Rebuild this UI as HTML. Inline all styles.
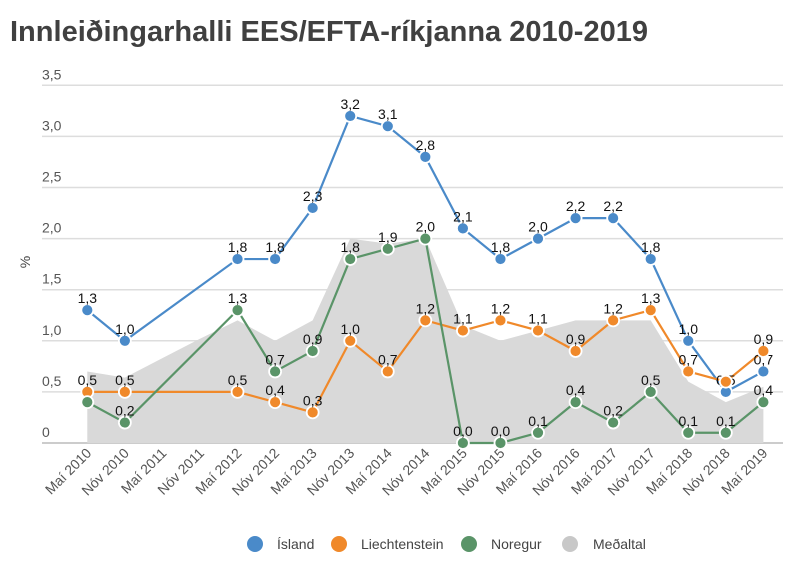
<!DOCTYPE html>
<html><head><meta charset="utf-8"><style>
body{margin:0;background:#fff;}
svg{display:block;font-family:"Liberation Sans",sans-serif;}
</style></head><body>
<svg id="c" width="800" height="562" viewBox="0 0 800 562" xmlns="http://www.w3.org/2000/svg">
<text x="10" y="41" font-size="29" font-weight="bold" fill="#404040" textLength="638" lengthAdjust="spacingAndGlyphs">Innleiðingarhalli EES/EFTA-ríkjanna 2010-2019</text>
</svg>
<script>
const s=document.getElementById('c');const NS='http://www.w3.org/2000/svg';
function el(t,a,txt){const e=document.createElementNS(NS,t);for(const k in a)e.setAttribute(k,a[k]);if(txt!=null)e.textContent=txt;s.appendChild(e);return e;}
const X=i=>87.3+i*37.56, Y=v=>443-v*102.2;
const ticks=['0','0,5','1,0','1,5','2,0','2,5','3,0','3,5'];
ticks.forEach((t,i)=>{const y=Y(i*0.5);el('line',{x1:42,x2:783,y1:y,y2:y,stroke:i==0?'#ccc':'#ddd','stroke-width':i==0?2:1.5});el('text',{x:42,y:y-6,'font-size':14,fill:'#555'},t);});
el('text',{x:0,y:0,'font-size':14,fill:'#444',transform:'translate(30,262) rotate(-90)','text-anchor':'middle'},'%');
const avg=[0.7,0.64,0.83,1.02,1.2,1.0,1.2,2.0,1.95,2.0,1.15,1.0,1.1,1.2,1.2,1.2,0.6,0.4,0.55];
let d='M'+X(0)+','+Y(0);avg.forEach((v,i)=>d+=' L'+X(i)+','+Y(v));d+=' L'+X(18)+','+Y(0)+' Z';
el('path',{d:d,fill:'#d9d9d9'});
const labels=[];for(let y=2010;y<=2019;y++){labels.push('Maí '+y);if(y<2019)labels.push('Nóv '+y);}
labels.forEach((l,i)=>el('text',{x:0,y:0,'font-size':14,fill:'#555','text-anchor':'end',transform:`translate(${X(i)+5},${454}) rotate(-45)`},l));
const series=[
{c:'#4a8ac9',d:[1.3,1.0,null,null,1.8,1.8,2.3,3.2,3.1,2.8,2.1,1.8,2.0,2.2,2.2,1.8,1.0,0.5,0.7]},
{c:'#f0892a',d:[0.5,0.5,null,null,0.5,0.4,0.3,1.0,0.7,1.2,1.1,1.2,1.1,0.9,1.2,1.3,0.7,0.6,0.9],nolab:[17]},
{c:'#5a9468',d:[0.4,0.2,null,null,1.3,0.7,0.9,1.8,1.9,2.0,0.0,0.0,0.1,0.4,0.2,0.5,0.1,0.1,0.4],nolab:[0]}];
series.forEach(sr=>{let p='';sr.d.forEach((v,i)=>{if(v!=null)p+=(p?' L':'M')+X(i)+','+Y(v);});el('path',{d:p,fill:'none',stroke:sr.c,'stroke-width':2.2});});
series.forEach(sr=>{sr.d.forEach((v,i)=>{if(v==null)return;el('circle',{cx:X(i),cy:Y(v),r:6,fill:sr.c,stroke:'#fff','stroke-width':1.8});if(!(sr.nolab||[]).includes(i))el('text',{x:X(i),y:Y(v)-7,'font-size':14,fill:'#111','text-anchor':'middle'},v.toFixed(1).replace('.',','));});});
[['#4a8ac9',255,277,'Ísland'],['#f0892a',339,361,'Liechtenstein'],['#5a9468',469,491,'Noregur'],['#c8c8c8',570,593,'Meðaltal']].forEach(l=>{el('circle',{cx:l[1],cy:544,r:8,fill:l[0]});el('text',{x:l[2],y:549,'font-size':14,fill:'#444'},l[3]);});
</script>
</body></html>
